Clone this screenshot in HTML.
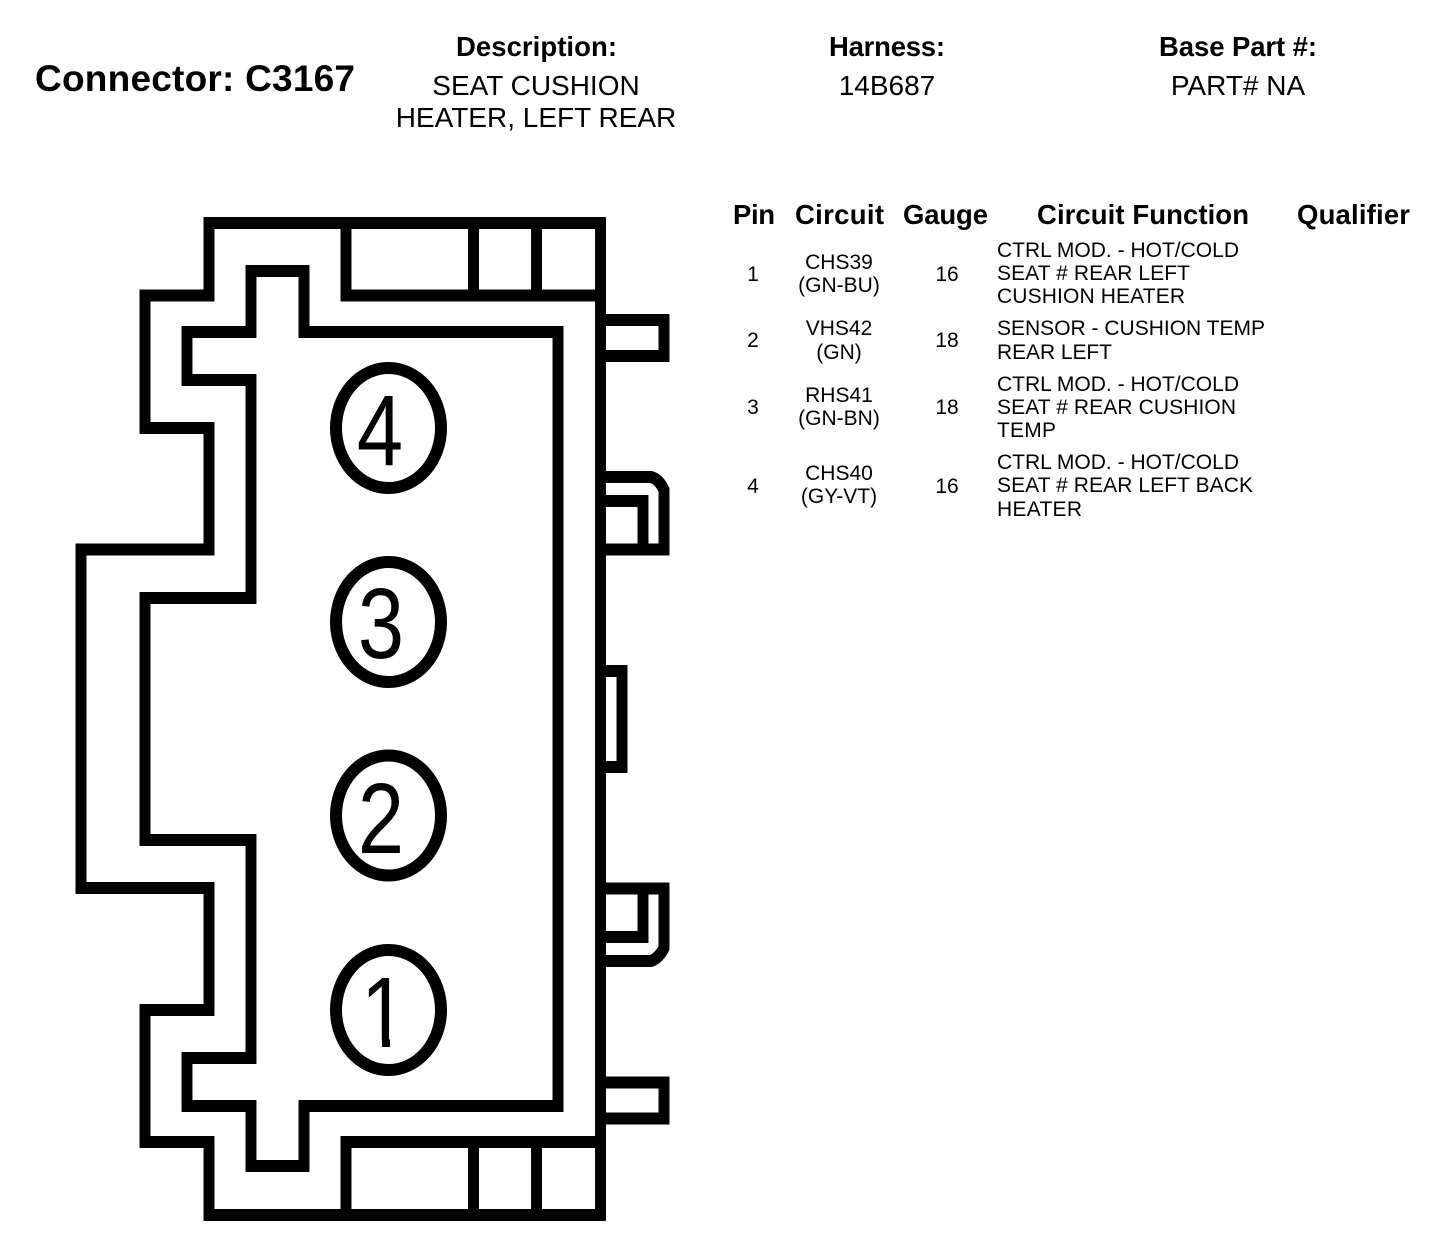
<!DOCTYPE html>
<html><head><meta charset="utf-8"><style>
html,body{margin:0;padding:0;background:#fff}
svg{display:block}
text{font-family:"Liberation Sans",Arial,sans-serif;fill:#000}
.h{font-weight:bold;font-size:27.5px}
.b{font-size:28px}
.s{font-size:21px}
.m{text-anchor:middle}
.d{font-size:100px;text-anchor:middle}
</style></head><body>
<svg width="1440" height="1252" viewBox="0 0 1440 1252" xmlns="http://www.w3.org/2000/svg">
<rect width="1440" height="1252" fill="#fff"/>
<defs>
<g id="sh" fill="none" stroke="#000" stroke-width="10.8" stroke-linejoin="miter">
<path d="M209 223H600.5V1215H209V1142H145V1010H209V888H81V549.5H209V428H145V295.5H209Z"/>
<path d="M187 332H251V271H304V332H558V1106H304V1166H251V1106H187V1058H251V840H145V598H251V380H187Z"/>
<path d="M346 223V295.5H600"/>
<path d="M473.5 223V295.5M536.5 223V295.5"/>
<path d="M346 1215V1142H600"/>
<path d="M473.5 1215V1142M536.5 1215V1142"/>
<path d="M600 320H664V356H600"/>
<path d="M600 477H651Q659 479 664 490V549.5H600"/>
<path d="M600 501H643V549.5"/>
<path d="M600 671H622V767H600"/>
<path d="M600 888.5H664V948Q659 958 651 961H600"/>
<path d="M600 937H643V888.5"/>
<path d="M600 1082.5H664V1118.5H600"/>
</g>
</defs>
<use href="#sh" y="-0.6"/>
<use href="#sh" y="0.6"/>
<g fill="none" stroke="#000" stroke-width="12">
<ellipse cx="388.5" cy="428" rx="52.5" ry="60"/>
<ellipse cx="388.5" cy="622" rx="52.5" ry="60"/>
<ellipse cx="388.5" cy="815.5" rx="52.5" ry="60"/>
<ellipse cx="388.5" cy="1010" rx="52.5" ry="60"/>
</g>
<text class="d" transform="translate(380,465) scale(.83,1)">4</text>
<text class="d" transform="translate(381,658) scale(.83,1)">3</text>
<text class="d" transform="translate(381,853) scale(.83,1)">2</text>
<text class="d" transform="translate(384,1047) scale(.83,1)">1</text>
<rect x="358" y="1039.5" width="24" height="9" fill="#fff"/>
<rect x="390" y="1039.5" width="20" height="9" fill="#fff"/>

<text x="35" y="91" style="font-weight:bold;font-size:37px" textLength="320">Connector: C3167</text>
<text x="456" y="56" class="h" textLength="161">Description:</text>
<text x="829" y="56" class="h" textLength="116">Harness:</text>
<text x="1159" y="56" class="h" textLength="158">Base Part #:</text>
<text x="536" y="95" class="b m">SEAT CUSHION</text>
<text x="536" y="127" class="b m">HEATER, LEFT REAR</text>
<text x="887" y="95" class="b m">14B687</text>
<text x="1238" y="95" class="b m">PART# NA</text>

<text x="733" y="224" class="h" textLength="42">Pin</text>
<text x="795" y="224" class="h" textLength="89">Circuit</text>
<text x="903" y="224" class="h" textLength="85">Gauge</text>
<text x="1037" y="224" class="h" textLength="212">Circuit Function</text>
<text x="1297" y="224" class="h" textLength="113">Qualifier</text>

<g class="s m">
<text x="753" y="281">1</text><text x="753" y="347">2</text><text x="753" y="414">3</text><text x="753" y="493">4</text>
<text x="947" y="281">16</text><text x="947" y="347">18</text><text x="947" y="414">18</text><text x="947" y="493">16</text>
<text x="839" y="269">CHS39</text><text x="839" y="292">(GN-BU)</text>
<text x="839" y="335">VHS42</text><text x="839" y="359">(GN)</text>
<text x="839" y="402">RHS41</text><text x="839" y="425">(GN-BN)</text>
<text x="839" y="480">CHS40</text><text x="839" y="503">(GY-VT)</text>
</g>
<g class="s">
<text x="997" y="257" textLength="242">CTRL MOD. - HOT/COLD</text>
<text x="997" y="280" textLength="193">SEAT # REAR LEFT</text>
<text x="997" y="303" textLength="188">CUSHION HEATER</text>
<text x="997" y="335" textLength="268">SENSOR - CUSHION TEMP</text>
<text x="997" y="359" textLength="115">REAR LEFT</text>
<text x="997" y="391" textLength="242">CTRL MOD. - HOT/COLD</text>
<text x="997" y="414" textLength="239">SEAT # REAR CUSHION</text>
<text x="997" y="437" textLength="59">TEMP</text>
<text x="997" y="469" textLength="242">CTRL MOD. - HOT/COLD</text>
<text x="997" y="492" textLength="256">SEAT # REAR LEFT BACK</text>
<text x="997" y="516" textLength="85">HEATER</text>
</g>
</svg>
</body></html>
